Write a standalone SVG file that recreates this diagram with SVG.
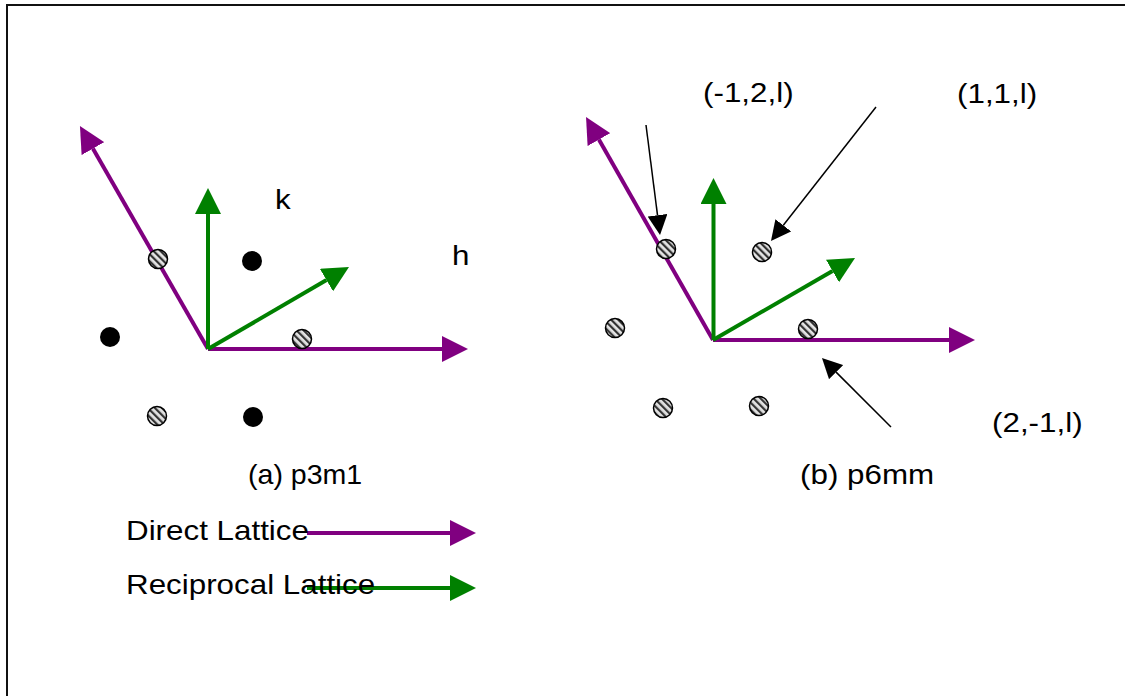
<svg xmlns="http://www.w3.org/2000/svg" width="1125" height="696" viewBox="0 0 1125 696">
<style>
text{font-family:"Liberation Sans",Arial,sans-serif;font-size:28px;fill:#000}
.dl{stroke:#800080;stroke-width:4;fill:none;marker-end:url(#ahP)}
.rl{stroke:#008000;stroke-width:4;fill:none;marker-end:url(#ahG)}
.ptr{stroke:#000;stroke-width:1.5;fill:none;marker-end:url(#ahK)}
.hat{fill:url(#hatch);stroke:#000;stroke-width:1.5}
.dot{fill:#000}
</style>
<defs>
<marker id="ahP" markerUnits="userSpaceOnUse" markerWidth="26" markerHeight="26" refX="0" refY="13" orient="auto" viewBox="0 0 26 26"><path d="M0,0 L26,13 L0,26 z" fill="#800080"/></marker>
<marker id="ahG" markerUnits="userSpaceOnUse" markerWidth="26" markerHeight="26" refX="0" refY="13" orient="auto" viewBox="0 0 26 26"><path d="M0,0 L26,13 L0,26 z" fill="#008000"/></marker>
<marker id="ahK" markerUnits="userSpaceOnUse" markerWidth="20" markerHeight="20" refX="0" refY="10" orient="auto" viewBox="0 0 20 20"><path d="M0,0 L20,10 L0,20 z" fill="#000"/></marker>
<pattern id="hatch" patternUnits="userSpaceOnUse" width="5" height="5" patternTransform="rotate(-45)"><rect width="5" height="5" fill="#e4e4e4"/><rect width="2.2" height="5" fill="#333"/></pattern>
</defs>
<rect width="1125" height="696" fill="#fff"/>
<g id="frame" stroke="#111" stroke-width="2" fill="none"><path d="M7,696 L7,5 L1125,5"/></g>
<g id="connectors">
<path class="dl" d="M208,349 L442,349"/>
<path class="dl" d="M208,349 L92.9,148.6"/>
<path class="rl" d="M208,349 L208,214"/>
<path class="rl" d="M208,349 L326.5,280.1"/>
<path class="dl" d="M713,340 L949,340"/>
<path class="dl" d="M713,340 L598.9,139.6"/>
<path class="rl" d="M713.5,340 L713.5,204"/>
<path class="rl" d="M713,340 L832.5,271"/>
<path class="ptr" d="M646,125 L657.5,215.2"/>
<path class="ptr" d="M876,107 L783.3,225.3"/>
<path class="ptr" d="M891,427 L836.1,372.1"/>
<path class="dl" d="M307,533 L450,533"/>
<path class="rl" d="M307,588 L450,588"/>
</g>
<g id="panel-a-points">
<circle class="hat" cx="158" cy="259" r="9.5"/>
<circle class="hat" cx="302" cy="339" r="9.5"/>
<circle class="hat" cx="157" cy="416" r="9.5"/>
<circle class="dot" cx="252" cy="261" r="10"/>
<circle class="dot" cx="110" cy="337" r="10"/>
<circle class="dot" cx="253" cy="417" r="10"/>
</g>
<g id="panel-b-points">
<circle class="hat" cx="666" cy="249" r="9.5"/>
<circle class="hat" cx="762" cy="252" r="9.5"/>
<circle class="hat" cx="808" cy="329" r="9.5"/>
<circle class="hat" cx="615" cy="328" r="9.5"/>
<circle class="hat" cx="663" cy="408" r="9.5"/>
<circle class="hat" cx="759" cy="406" r="9.5"/>
</g>
<g id="label-k"><text transform="translate(275,209) scale(1.12,1)">k</text></g>
<g id="label-h"><text transform="translate(452,265) scale(1.12,1)">h</text></g>
<g id="caption-a"><text transform="translate(248,484) scale(1.02,1)">(a) p3m1</text></g>
<g id="caption-b"><text transform="translate(800,484) scale(1.12,1)">(b) p6mm</text></g>
<g id="label-m12"><text transform="translate(703,102) scale(1.12,1)">(-1,2,l)</text></g>
<g id="label-11"><text transform="translate(957,103) scale(1.12,1)">(1,1,l)</text></g>
<g id="label-2m1"><text transform="translate(992,432) scale(1.12,1)">(2,-1,l)</text></g>
<g id="legend-direct"><text transform="translate(126,540) scale(1.12,1)">Direct Lattice</text></g>
<g id="legend-reciprocal"><text transform="translate(126,594) scale(1.12,1)">Reciprocal Lattice</text></g>
</svg>
